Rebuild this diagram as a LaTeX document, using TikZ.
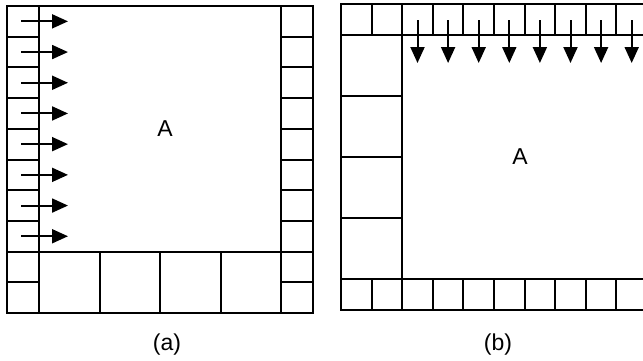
\documentclass[tikz,border=0pt]{standalone}
\usepackage{fontspec}
\setmainfont{Liberation Sans}
\usetikzlibrary{arrows.meta}
\begin{document}
\begin{tikzpicture}[x=1pt,y=-1pt,
  cellbox/.style 2 args={draw,line width=2pt,inner sep=0pt,outer sep=0pt,minimum width=#1,minimum height=#2},
  frame/.style={draw,line width=2.6pt},
  flow/.style={line width=2pt,-{Triangle[length=16pt,width=14pt]}},
  lbl/.style={font=\fontsize{23}{26}\selectfont,inner sep=0pt}]
\useasboundingbox (0,0) rectangle (643,360);
\clip (0,0) rectangle (643,360);
% ---------- panel (a) ----------
\foreach \i in {1,...,10}{
  \node[cellbox={32pt}{30.7pt}] (al\i) at (23,{6+30.7*(\i-0.5)}) {};
  \node[cellbox={32pt}{30.7pt}] (ar\i) at (297,{6+30.7*(\i-0.5)}) {};
}
\foreach \k [count=\n] in {69.25,129.75,190.25,250.75}{
  \node[cellbox={60.5pt}{61.4pt}] (ab\n) at (\k,282.3) {};
}
\path[frame] (7,6) rectangle (313,313);
\foreach \i in {1,...,8}{
  \coordinate (at\i) at (68,{6+30.7*(\i-0.5)});
  \draw[flow] ([xshift=-2pt]al\i.center) -- (at\i);
}
\node[lbl] (aA) at (165,129) {A};
\node[lbl] (acap) at (167,345) {(a)};
% ---------- panel (b) ----------
\foreach \j in {1,...,10}{
  \node[cellbox={30.6pt}{30.6pt}] (bt\j) at ({341+30.6*(\j-0.5)},19.3) {};
  \node[cellbox={30.6pt}{30.6pt}] (bb\j) at ({341+30.6*(\j-0.5)},294.7) {};
}
\foreach \k in {1,...,4}{
  \node[cellbox={61.2pt}{61.2pt}] (bl\k) at (371.6,{34.6+61.2*(\k-0.5)}) {};
}
\path[frame] (341,4) rectangle (647,310);
\foreach \j in {3,...,10}{
  \coordinate (be\j) at ({341+30.6*(\j-0.5)},63);
  \draw[flow] ([yshift=-1pt]bt\j.center) -- (be\j);
}
\node[lbl] (bA) at (520,157) {A};
\node[lbl] (bcap) at (498,345) {(b)};
\end{tikzpicture}
\end{document}
